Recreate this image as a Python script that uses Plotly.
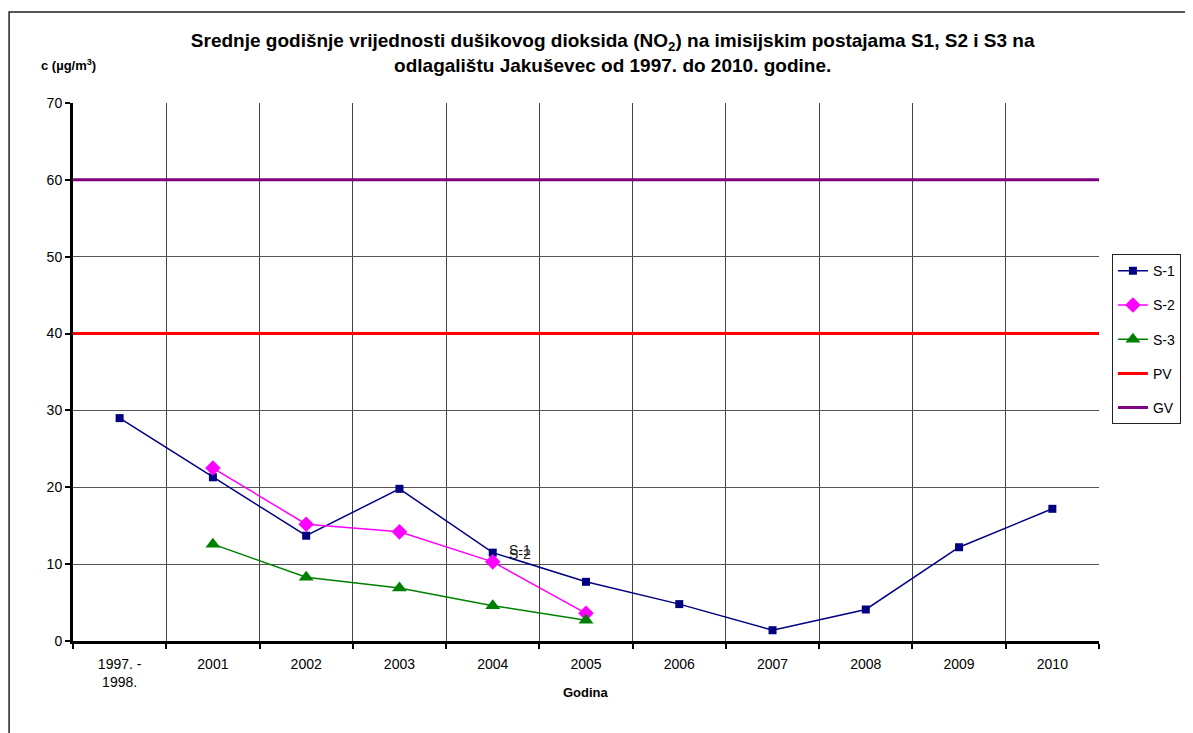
import plotly.graph_objects as go

# categories on the x axis
godine = ['1997. -<br>1998.', '2001', '2002', '2003', '2004', '2005',
          '2006', '2007', '2008', '2009', '2010']

# measured NO2 annual means (ug/m3)
s1_vals = [29.0, 21.3, 13.7, 19.8, 11.5, 7.7, 4.8, 1.4, 4.1, 12.2, 17.2]
s23_godine = ['2001', '2002', '2003', '2004', '2005']
s2_vals = [22.5, 15.2, 14.2, 10.3, 3.6]
s3_vals = [12.6, 8.3, 6.9, 4.6, 2.7]

# limit values
pv_value = 40
gv_value = 60

FONT = 'Arial, "Liberation Sans", sans-serif'

fig = go.Figure()

fig.add_trace(go.Scatter(
    x=godine, y=s1_vals, name='S-1', mode='lines+markers',
    line=dict(color='#000080', width=1.5),
    marker=dict(symbol='square', size=8, color='#000080'),
    legendgroup='s1'
))
fig.add_trace(go.Scatter(
    x=s23_godine, y=s2_vals, name='S-2', mode='lines+markers',
    line=dict(color='#FF00FF', width=1.5),
    marker=dict(symbol='diamond', size=12, color='#FF00FF'),
    legendgroup='s2'
))
fig.add_trace(go.Scatter(
    x=s23_godine, y=s3_vals, name='S-3', mode='lines+markers',
    line=dict(color='#008000', width=1.5),
    marker=dict(symbol='triangle-up', size=13, color='#008000'),
    legendgroup='s3'
))

# PV and GV span the whole plot width -> drawn on a hidden overlay axis
fig.add_trace(go.Scatter(
    x=[0, 1], y=[pv_value, pv_value], name='PV', mode='lines',
    line=dict(color='#FF0000', width=3), xaxis='x2',
    legendgroup='pv'
))
fig.add_trace(go.Scatter(
    x=[0, 1], y=[gv_value, gv_value], name='GV', mode='lines',
    line=dict(color='#800080', width=3), xaxis='x2',
    legendgroup='gv'
))

# overlapping data labels next to the 2004 point (category index)
i2004 = godine.index('2004')
fig.add_annotation(x=i2004, y=s1_vals[i2004], text='S-1', showarrow=False,
                   xanchor='left', xshift=14, yshift=3,
                   font=dict(family=FONT, size=14, color='#222222'))
fig.add_annotation(x=i2004, y=s1_vals[i2004], text='S-2', showarrow=False,
                   xanchor='left', xshift=14, yshift=-1,
                   font=dict(family=FONT, size=14, color='#222222'))

# axis titles placed like the original
fig.add_annotation(x=-0.004, y=1.07, xref='paper', yref='paper',
                   text='<b>c (µg/m<sup>3</sup>)</b>', showarrow=False,
                   xanchor='center', yanchor='middle',
                   font=dict(family=FONT, size=13, color='black'))
fig.add_annotation(x=0.5, y=-0.095, xref='paper', yref='paper',
                   text='<b>Godina</b>', showarrow=False, yanchor='middle',
                   font=dict(family=FONT, size=13, color='black'))

# outer frame of the chart
fig.add_shape(type='rect', xref='paper', yref='paper',
              x0=-0.0623, x1=1.3, y0=-0.5, y1=1.169,
              line=dict(color='#222222', width=1.5), layer='below')

fig.update_layout(
    width=1185, height=725,
    margin=dict(l=65, r=92, t=95, b=92),
    paper_bgcolor='white', plot_bgcolor='white',
    font=dict(family=FONT, size=14, color='black'),
    title=dict(
        text='<b>Srednje godišnje vrijednosti dušikovog dioksida (NO<sub>2</sub>) na imisijskim postajama S1, S2 i S3 na<br>odlagalištu Jakuševec od 1997. do 2010. godine.</b>',
        x=0.526, xref='paper', xanchor='center',
        y=0.946, yanchor='top',
        font=dict(family=FONT, size=19, color='black')
    ),
    xaxis=dict(
        type='category', categoryorder='array', categoryarray=godine,
        tickson='boundaries', ticks='outside', ticklen=5, tickwidth=2,
        tickcolor='black', showline=True, linecolor='black', linewidth=3,
        showgrid=True, gridcolor='#444444', gridwidth=1,
        range=[-0.5, len(godine) - 0.5], ticklabelstandoff=8,
        tickfont=dict(family=FONT, size=14)
    ),
    xaxis2=dict(overlaying='x', range=[0, 1], visible=False),
    yaxis=dict(
        range=[0, 70], dtick=10, ticks='outside', ticklen=5, tickwidth=2,
        tickcolor='black', showline=True, linecolor='black', linewidth=3,
        showgrid=True, gridcolor='#555555', gridwidth=1, zeroline=False,
        tickfont=dict(family=FONT, size=14)
    ),
    legend=dict(
        x=1.0126, y=0.719, xanchor='left', yanchor='top',
        bordercolor='#222222', borderwidth=1, bgcolor='white',
        font=dict(family=FONT, size=14), tracegroupgap=13,
        itemwidth=30
    ),
    showlegend=True
)

fig.write_html("out.html")
